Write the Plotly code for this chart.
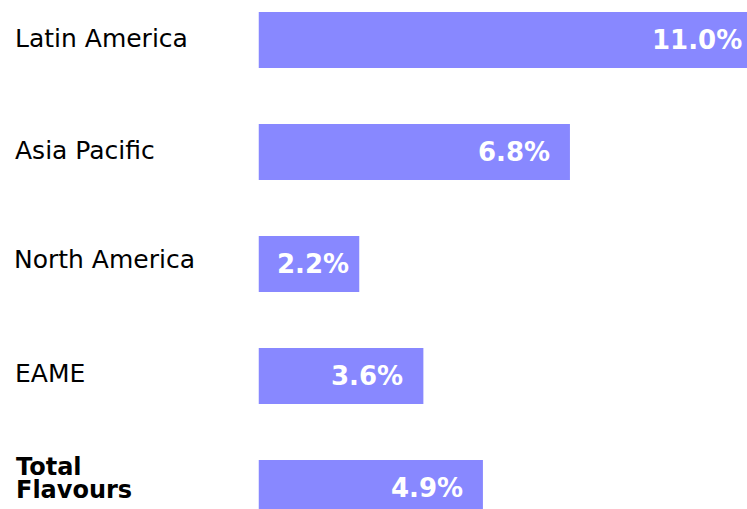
import plotly.graph_objects as go

regions = ["Latin America", "Asia Pacific", "North America", "EAME", "Total Flavours"]
growth = [11.0, 6.8, 2.2, 3.6, 4.9]
value_labels = ["11.0%", "6.8%", "2.2%", "3.6%", "4.9%"]

W, H = 747, 509
x0_px = 258.5          # left edge of the bars
px_per_unit = 45.8
xmax = (W - x0_px) / px_per_unit
pitch = 112.0
first_center = 40.0

FONT = "DejaVu Sans, Verdana, sans-serif"
label_yshift = {"Latin America": 1.5, "Asia Pacific": 1.5, "North America": 5, "EAME": 2.5}
label_x = {"Latin America": 12.5, "Asia Pacific": 12.5, "North America": 11.5, "EAME": 12.5}

fig = go.Figure(go.Bar(
    x=growth, y=list(range(len(regions))), orientation="h",
    marker=dict(color="#8888ff", line=dict(width=0)),
    width=0.5, hoverinfo="skip",
))

dom0 = x0_px / W
annotations = []
for i, name in enumerate(regions):
    if name == "Total Flavours":
        parts = name.split(" ")
        shifts = [21.5, -1.8]
        for part, ys in zip(parts, shifts):
            annotations.append(dict(
                x=13.5 / W, xref="paper", y=i, yref="y", xanchor="left", yanchor="middle",
                text=f"<b>{part}</b>", showarrow=False, yshift=ys,
                font=dict(family=FONT, size=24, color="black")))
    else:
        annotations.append(dict(
            x=label_x[name] / W, xref="paper", y=i, yref="y", xanchor="left", yanchor="middle",
            text=name, showarrow=False, yshift=label_yshift[name],
            font=dict(family=FONT, size=25, color="black")))
    # value label: end of the bar mapped through the x scale into paper units
    x_paper = dom0 + (growth[i] / xmax) * (1 - dom0)
    annotations.append(dict(
        x=x_paper, xref="paper", y=i, yref="y", xanchor="right", yanchor="middle",
        text=f"<b>{value_labels[i]}</b>", showarrow=False,
        xshift=-18 if growth[i] > 3 else -8, yshift=0,
        font=dict(family=FONT, size=26, color="white")))

fig.update_layout(
    width=W, height=H, margin=dict(l=0, r=0, t=0, b=0),
    paper_bgcolor="white", plot_bgcolor="white", showlegend=False,
    hovermode=False,
    xaxis=dict(domain=[dom0, 1], range=[0, xmax], visible=False, fixedrange=True),
    yaxis=dict(range=[(H - first_center) / pitch, -first_center / pitch],
               visible=False, fixedrange=True),
    annotations=annotations,
)
fig.write_html(
    "out.html",
    config={"displayModeBar": False, "staticPlot": True},
    post_script="document.body.style.margin='0';document.body.style.overflow='hidden';",
)
